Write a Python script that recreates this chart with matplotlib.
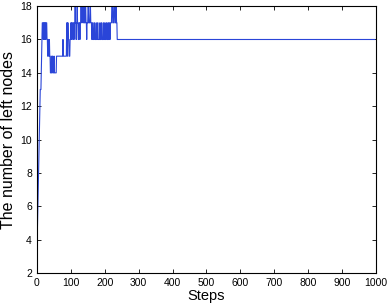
import numpy as np
import matplotlib
matplotlib.use("Agg")
import matplotlib.pyplot as plt

plt.rcParams["font.family"] = ["Liberation Sans", "DejaVu Sans"]

# run-length encoded trace: level held for the given number of steps
levels = [3, 4, 5, 6, 7, 8, 9, 10, 11, 12, 13, 14, 15, 16,
          17, 16, 17, 16, 17, 16, 17,
          16, 15, 16, 15, 16, 15,
          14, 15, 14, 15, 14, 15, 14,
          15, 16, 15,
          17, 15, 17, 16, 15, 16, 17, 16, 17, 16, 17, 16, 17,
          18, 17, 16, 17, 18, 17, 16, 17, 16, 17, 18, 17, 18, 17,
          18, 17, 18, 17, 16, 17, 18, 17, 18, 17, 16, 17,
          16, 17, 16, 17, 16, 17, 16, 17, 16, 17, 16, 17, 16, 17, 16,
          17, 16, 17, 16, 17, 16,
          17, 18, 17, 18, 17, 18, 17, 16]
durations = [1, 1, 1, 1, 1, 1, 1, 1, 1, 1, 3, 1, 1, 1,
             3, 1, 2, 1, 3, 1, 3,
             2, 1, 2, 2, 1, 2,
             3, 1, 2, 2, 3, 1, 6,
             19, 1, 10,
             2, 1, 2, 2, 3, 2, 2, 1, 3, 2, 1, 2, 2,
             1, 2, 1, 2, 1, 2, 2, 3, 1, 2, 2, 1, 3, 2,
             2, 3, 2, 2, 1, 3, 2, 4, 2, 3, 2, 2,
             3, 2, 4, 1, 3, 2, 5, 1, 3, 2, 4, 1, 3, 2, 3,
             2, 3, 1, 2, 2, 2,
             4, 3, 3, 3, 3, 2, 2, 760]

x_ticks = [0, 100, 200, 300, 400, 500, 600, 700, 800, 900, 1000]
y_ticks = [2, 4, 6, 8, 10, 12, 14, 16, 18]

values = np.repeat(levels, durations)
steps = np.arange(len(values))

fig = plt.figure(figsize=(3.88, 3.07), dpi=100)
ax = fig.add_axes([0.095, 0.111, 0.874, 0.869])
ax.plot(steps, values, color="#2a45d8", linewidth=0.8)

ax.set_xlim(0, 1000)
ax.set_ylim(2, 18)
ax.set_xticks(x_ticks)
ax.set_yticks(y_ticks)
ax.tick_params(direction="in", top=True, right=True, labelsize=7.5, length=3, width=0.6)
for s in ax.spines.values():
    s.set_linewidth(0.8)
ax.set_xlabel("Steps", fontsize=10.5, labelpad=1)
ax.set_ylabel("The number of left nodes", fontsize=11.5, labelpad=3)

fig.savefig("out.png", dpi=100)
